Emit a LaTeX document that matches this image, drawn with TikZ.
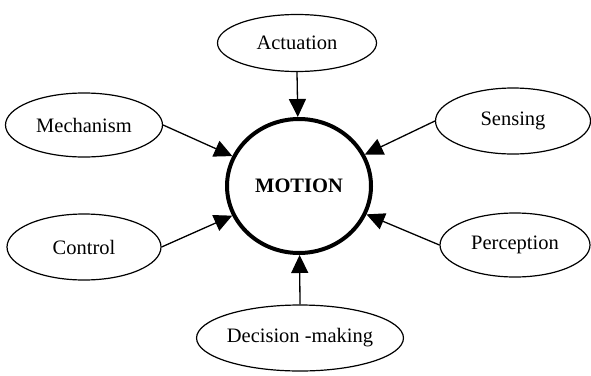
\documentclass[tikz,border=0pt]{standalone}
\usepackage{fontspec}
\setmainfont{Liberation Serif}
\usetikzlibrary{shapes.geometric,arrows.meta}
\newcommand{\labfont}{\fontsize{20.5}{24}\selectfont}

\begin{document}
\begin{tikzpicture}[x=1pt,y=-1pt,
   oval/.style={ellipse,draw,line width=1.2pt,inner sep=0pt,font=\labfont},
   hub/.style={ellipse,draw,line width=4pt,inner sep=0pt,font=\labfont\bfseries},
   feed/.style={line width=1.3pt,-{Triangle[length=18pt,width=17pt]}}]
   \useasboundingbox (0,0) rectangle (591,375);
   \node[hub,minimum width=144pt,minimum height=134pt] (motion) at (299,186) {MOTION};
   \node[oval,minimum width=159pt,minimum height=57pt] (act)  at (297,43)  {Actuation};
   \node[oval,minimum width=157pt,minimum height=64pt] (mech) at (84,125)  {Mechanism};
   \node[oval,minimum width=154pt,minimum height=66pt] (ctrl) at (84,247)  {Control};
   \node[oval,minimum width=155pt,minimum height=66pt] (sens) at (513,121) {Sensing};
   \node[oval,minimum width=150pt,minimum height=64pt] (perc) at (515,245) {Perception};
   \node[oval,minimum width=175pt,minimum height=66pt] (deci) at (300,338) {Decision -making};
   \draw[feed] (act.south)  -- (motion);
   \draw[feed] (mech.east)  -- (motion);
   \draw[feed] (ctrl.east)  -- (motion);
   \draw[feed] (sens.west)  -- (motion);
   \draw[feed] (perc.west)  -- (motion);
   \draw[feed] (deci.north) -- (motion);
\end{tikzpicture}
\end{document}
